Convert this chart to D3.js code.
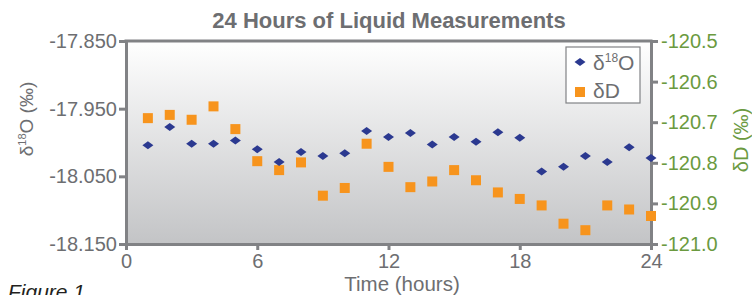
<!DOCTYPE html>
<html>
<head>
<meta charset="utf-8">
<script src="https://cdn.jsdelivr.net/npm/d3@7.9.0/dist/d3.min.js"></script>
<style>
  body { margin: 0; background: #fff; }
  svg { display: block; font-family: "Liberation Sans", Arial, sans-serif; }
</style>
</head>
<body>
<svg id="chart" width="752" height="295"></svg>
<script>
// hours of each measurement
const hours = d3.range(1, 25);
// δ18O (‰), left axis
const d18O = [-18.004, -17.977, -18.002, -18.002, -17.997, -18.010, -18.029, -18.014,
  -18.020, -18.016, -17.983, -17.992, -17.986, -18.003, -17.992, -17.999,
  -17.985, -17.993, -18.043, -18.036, -18.020, -18.029, -18.007, -18.023];
// δD (‰), right axis
const dD = [-120.690, -120.682, -120.694, -120.661, -120.717, -120.796, -120.818, -120.799,
  -120.881, -120.862, -120.753, -120.810, -120.860, -120.846, -120.818, -120.843,
  -120.873, -120.889, -120.905, -120.950, -120.966, -120.905, -120.915, -120.931];

const xTicks = [0, 6, 12, 18, 24];
const leftTicks = [-17.85, -17.95, -18.05, -18.15];
const rightTicks = [-120.5, -120.6, -120.7, -120.8, -120.9, -121.0];

const svg = d3.select("#chart");
const margin = { top: 41, left: 126, right: 101, bottom: 51 };
const width = 752 - margin.left - margin.right;
const height = 295 - margin.top - margin.bottom;

const grey = "#818285";
const txt = "#6d6e71";
const green = "#6b9a3f";

const defs = svg.append("defs");
const grad = defs.append("linearGradient").attr("id", "bg")
  .attr("x1", 0).attr("y1", 0).attr("x2", 0).attr("y2", 1);
grad.append("stop").attr("offset", "0%").attr("stop-color", "#ffffff");
grad.append("stop").attr("offset", "100%").attr("stop-color", "#c3c4c6");

const g = svg.append("g").attr("transform", `translate(${margin.left},${margin.top})`);

let x = d3.scaleLinear().domain([0, 24]).range([0, width]);
let yL = d3.scaleLinear().domain([-18.15, -17.85]).range([height, 0]);
let yR = d3.scaleLinear().domain([-121.0, -120.5]).range([height, 0]);

g.append("rect")
  .attr("width", width).attr("height", height)
  .attr("fill", "url(#bg)");

// axes
const xAxis = g.append("g").attr("transform", `translate(0,${height})`)
  .call(d3.axisBottom(x).tickValues(xTicks).tickSize(6).tickSizeOuter(0).tickFormat(d3.format("d")));
const lAxis = g.append("g")
  .call(d3.axisLeft(yL).tickValues(leftTicks).tickSize(7).tickSizeOuter(0).tickFormat(d3.format(".3f")));
const rAxis = g.append("g").attr("transform", `translate(${width},0)`)
  .call(d3.axisRight(yR).tickValues(rightTicks).tickSize(7).tickSizeOuter(0).tickFormat(d3.format(".1f")));

[xAxis, lAxis, rAxis].forEach(a => {
  a.select(".domain").attr("stroke", grey).attr("stroke-width", 3);
  a.selectAll(".tick line").attr("stroke", grey).attr("stroke-width", 3);
  a.selectAll(".tick text").attr("font-size", 20).attr("fill", txt)
    .attr("font-family", "Liberation Sans, Arial, sans-serif")
    .text(function () { return d3.select(this).text().replace("−", "-"); });
});
xAxis.selectAll(".tick text").attr("dy", null).attr("y", 24);
lAxis.selectAll(".tick text").attr("x", -9);
rAxis.selectAll(".tick text").attr("fill", green).attr("x", 10);

// top border
g.append("line").attr("x1", -1.5).attr("x2", width + 1.5).attr("y1", 0).attr("y2", 0)
  .attr("stroke", grey).attr("stroke-width", 3);

// δD squares
g.selectAll(".sq").data(hours).enter().append("rect")
  .attr("class", "sq")
  .attr("x", (d, i) => x(d) - 5).attr("y", (d, i) => yR(dD[i]) - 5)
  .attr("width", 10).attr("height", 10)
  .attr("fill", "#f7941d");

// flat diamond marker, 11 wide and 8 tall
const flatDiamond = {
  draw(ctx) {
    ctx.moveTo(-5.5, 0);
    ctx.lineTo(0, -4);
    ctx.lineTo(5.5, 0);
    ctx.lineTo(0, 4);
    ctx.closePath();
  }
};
const diamond = d3.symbol().type(flatDiamond);

// δ18O diamonds
g.selectAll(".dm").data(hours).enter().append("path")
  .attr("class", "dm")
  .attr("transform", (d, i) => `translate(${x(d)},${yL(d18O[i])})`)
  .attr("d", diamond)
  .attr("fill", "#2b3990");

// legend
const lg = g.append("g").attr("transform", `translate(${566 - margin.left},${47 - margin.top})`);
lg.append("rect").attr("width", 74).attr("height", 56)
  .attr("fill", "#fff").attr("stroke", grey).attr("stroke-width", 1.2);
lg.append("path").attr("d", diamond).attr("fill", "#2b3990")
  .attr("transform", "translate(14,15)");
lg.append("rect").attr("x", 9).attr("y", 40).attr("width", 10).attr("height", 10).attr("fill", "#f7941d");
const t1 = lg.append("text").attr("x", 27).attr("y", 23).attr("font-size", 21).attr("fill", txt);
t1.append("tspan").text("δ");
t1.append("tspan").text("18").attr("font-size", 12).attr("dy", -8);
t1.append("tspan").text("O").attr("dy", 8);
lg.append("text").attr("x", 27).attr("y", 51).attr("font-size", 21).attr("fill", txt).text("δD");

// title
svg.append("text").attr("x", 389).attr("y", 28).attr("text-anchor", "middle")
  .attr("font-size", 22).attr("font-weight", "bold").attr("fill", txt)
  .text("24 Hours of Liquid Measurements");

// x axis label
svg.append("text").attr("x", 402).attr("y", 291).attr("text-anchor", "middle")
  .attr("font-size", 20.5).attr("fill", txt).text("Time (hours)");

// left axis label
const ll = svg.append("text").attr("transform", "translate(33,119) rotate(-90)")
  .attr("text-anchor", "middle").attr("font-size", 19).attr("fill", txt);
ll.append("tspan").text("δ");
ll.append("tspan").text("18").attr("font-size", 11).attr("dy", -7);
ll.append("tspan").text("O (‰)").attr("dy", 7);

// right axis label
svg.append("text").attr("transform", "translate(748,140) rotate(-90)")
  .attr("text-anchor", "middle").attr("font-size", 20).attr("fill", green).text("δD (‰)");

// figure caption
svg.append("text").attr("x", 8).attr("y", 299).attr("font-size", 21)
  .attr("font-style", "italic").attr("fill", "#231f20").text("Figure 1");
</script>
</body>
</html>
